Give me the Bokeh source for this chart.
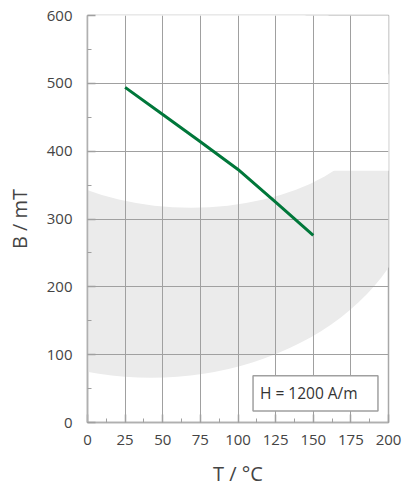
from bokeh.plotting import figure
from bokeh.models import SingleIntervalTicker
from bokeh.core.properties import value
from bokeh.embed import file_html
from bokeh.resources import INLINE

# data
temperature = [25, 50, 75, 100, 125, 150]
flux_density = [494, 454, 414, 373, 325, 276]
x_label = "T / °C"
y_label = "B / mT"
note_text = "H = 1200 A/m"

FONT = "Open Sans"

p = figure(width=403, height=495, x_range=(0, 200), y_range=(0, 600),
           output_backend="svg", toolbar_location=None,
           min_border_left=87, min_border_right=15, min_border_top=15,
           min_border_bottom=73)
p.background_fill_color = "white"
p.border_fill_color = "white"
p.outline_line_color = "#a8a8a8"
p.outline_line_width = 1.5

# background watermark (decoration)
p.ellipse(x=[42.3], y=[371], width=[357], height=[610],
          fill_color="#ebebeb", line_color=None, level="image")
p.quad(left=[-20], right=[220], bottom=[371], top=[800],
       fill_color="white", line_color=None, level="image")
p.ellipse(x=[68.8], y=[474.5], width=[251], height=[316],
          fill_color="white", line_color=None, level="image")

# data line
p.line(temperature, flux_density, line_color="#00773a", line_width=3)

# note box
p.quad(left=[110], right=[193], bottom=[17], top=[69],
       fill_color="white", line_color="#a0a0a0", line_width=1.5)
p.text(x=[114.6], y=[43.5], text=[note_text], text_baseline="middle",
       text_align="left", text_font=value(FONT), text_font_size="15.5px",
       text_color="#333333")

# axes
p.xaxis.ticker = SingleIntervalTicker(interval=25, num_minor_ticks=2)
p.yaxis.ticker = SingleIntervalTicker(interval=100, num_minor_ticks=2)
p.xaxis.axis_label = x_label
p.yaxis.axis_label = y_label

for ax in (p.xaxis, p.yaxis):
    ax.axis_line_color = "#b0b0b0"
    ax.axis_line_width = 1.5
    ax.major_tick_in = 8
    ax.major_tick_out = 0
    ax.minor_tick_in = 4
    ax.minor_tick_out = 0
    ax.major_tick_line_color = "#a0a0a0"
    ax.minor_tick_line_color = "#a0a0a0"
    ax.major_tick_line_width = 1.5
    ax.major_label_text_font = FONT
    ax.major_label_text_font_size = "15px"
    ax.major_label_text_color = "#444444"
    ax.axis_label_text_font = FONT
    ax.axis_label_text_font_size = "20px"
    ax.axis_label_text_font_style = "normal"
    ax.axis_label_text_color = "#444444"

p.xaxis.major_label_standoff = 12
p.xaxis.axis_label_standoff = 12
p.yaxis.major_label_standoff = 15
p.yaxis.axis_label_standoff = 11

p.grid.grid_line_color = "#a0a0a0"
p.grid.grid_line_width = 1
p.xgrid.ticker = SingleIntervalTicker(interval=25)
p.ygrid.ticker = SingleIntervalTicker(interval=100)

open("out.html", "w").write(file_html(p, INLINE))
